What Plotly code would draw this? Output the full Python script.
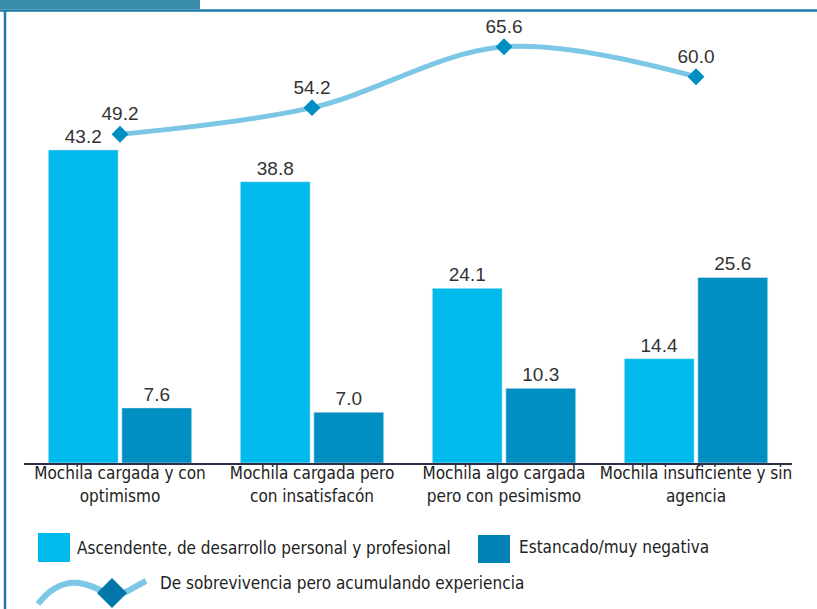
import plotly.graph_objects as go

# ---- data ----
categories = ["Mochila cargada y con<br>optimismo",
              "Mochila cargada pero<br>con insatisfacón",
              "Mochila algo cargada<br>pero con pesimismo",
              "Mochila insuficiente y sin<br>agencia"]
ascendente = [43.2, 38.8, 24.1, 14.4]
estancado = [7.6, 7.0, 10.3, 25.6]
sobrevivencia = [49.2, 54.2, 65.6, 60.0]

series_names = ["Ascendente, de desarrollo personal y profesional",
                "Estancado/muy negativa",
                "De sobrevivencia pero acumulando experiencia"]

# ---- style ----
W, H = 817, 609
PX0, PX1, PY0, PY1 = 24, 792, 10, 463   # plot area in pixels (left, right, top, bottom)
C_LIGHT = "#00BAEC"
C_DARK = "#008FC0"
C_LINE = "#7CC6E6"
C_MARK = "#008FC2"
C_FRAME = "#1B7BA6"
TXT = "#333333"
LBL_FONT = "DejaVu Sans Condensed"
NUM_FONT = "Liberation Sans"


def px(x):
    return (x - PX0) / (PX1 - PX0)


def py(y):
    return (PY1 - y) / (PY1 - PY0)


fig = go.Figure()
fig.add_trace(go.Bar(x=categories, y=ascendente, name=series_names[0],
                     marker_color=C_LIGHT, text=[f"{v:.1f}" for v in ascendente],
                     textposition="outside", cliponaxis=False,
                     textfont=dict(family=NUM_FONT, size=19, color=TXT)))
fig.add_trace(go.Bar(x=categories, y=estancado, name=series_names[1],
                     marker_color=C_DARK, text=[f"{v:.1f}" for v in estancado],
                     textposition="outside", cliponaxis=False,
                     textfont=dict(family=NUM_FONT, size=19, color=TXT)))
fig.add_trace(go.Scatter(x=categories, y=sobrevivencia, name=series_names[2],
                         yaxis="y2", mode="lines+markers+text",
                         line=dict(color=C_LINE, width=5, shape="spline", smoothing=1.0),
                         marker=dict(symbol="diamond", size=13, color=C_MARK),
                         text=[f"{v:.1f}" for v in sobrevivencia],
                         textposition="top center", cliponaxis=False,
                         textfont=dict(family=NUM_FONT, size=19, color=TXT)))

shapes = [
    # title box and frame
    dict(type="rect", xref="paper", yref="paper", x0=px(0), x1=px(200), y0=py(9), y1=py(-2),
         fillcolor="#3A8CAB", line_width=0, layer="above"),
    dict(type="line", xref="paper", yref="paper", x0=px(0), x1=px(817), y0=py(10.5), y1=py(10.5),
         line=dict(color=C_FRAME, width=2.5)),
    dict(type="line", xref="paper", yref="paper", x0=px(5), x1=px(5), y0=py(10), y1=py(612),
         line=dict(color=C_FRAME, width=2.5)),
    # legend swatches
    dict(type="rect", xref="paper", yref="paper", x0=px(38), x1=px(70), y0=py(562), y1=py(533),
         fillcolor=C_LIGHT, line_width=0),
    dict(type="rect", xref="paper", yref="paper", x0=px(478), x1=px(510), y0=py(563), y1=py(535),
         fillcolor="#0082B6", line_width=0),
]

wave = [(38, 604), (52, 586), (68, 580), (84, 584), (100, 592), (112, 594), (128, 590), (146, 581)]
path = "M{},{} C{},{} {},{} {},{} S{},{} {},{} S{},{} {},{}".format(
    px(wave[0][0]), py(wave[0][1]),
    px(wave[1][0]), py(wave[1][1]), px(wave[2][0]), py(wave[2][1]), px(wave[3][0]), py(wave[3][1]),
    px(wave[4][0]), py(wave[4][1]), px(wave[5][0]), py(wave[5][1]),
    px(wave[6][0]), py(wave[6][1]), px(wave[7][0]), py(wave[7][1]))
shapes.append(dict(type="path", xref="paper", yref="paper", path=path,
                   line=dict(color=C_LINE, width=6)))
dcx, dcy, dr = 112, 593, 15
dpath = "M{},{} L{},{} L{},{} L{},{} Z".format(
    px(dcx - dr), py(dcy), px(dcx), py(dcy - dr), px(dcx + dr), py(dcy), px(dcx), py(dcy + dr))
shapes.append(dict(type="path", xref="paper", yref="paper", path=dpath,
                   fillcolor="#0077A8", line_width=0))

annotations = [
    dict(text=series_names[0], x=px(75), y=py(548), xref="paper", yref="paper",
         xanchor="left", yanchor="middle", showarrow=False,
         font=dict(family=LBL_FONT, size=17, color="#222222")),
    dict(text=series_names[1], x=px(517), y=py(547), xref="paper", yref="paper",
         xanchor="left", yanchor="middle", showarrow=False,
         font=dict(family=LBL_FONT, size=17, color="#222222")),
    dict(text=series_names[2], x=px(158), y=py(583), xref="paper", yref="paper",
         xanchor="left", yanchor="middle", showarrow=False,
         font=dict(family=LBL_FONT, size=17, color="#222222")),
]

fig.update_layout(
    width=W, height=H,
    margin=dict(l=PX0, r=W - PX1, t=PY0, b=H - PY1),
    paper_bgcolor="white", plot_bgcolor="white",
    barmode="group", bargap=0.234, bargroupgap=0.05,
    showlegend=False,
    xaxis=dict(showline=True, linecolor="#2A2F45", linewidth=2, ticks="",
               showgrid=False, zeroline=False, ticklabelstandoff=-6, fixedrange=True,
               tickfont=dict(family=LBL_FONT, size=17, color="#222222")),
    yaxis=dict(visible=False, range=[0, 62.5], fixedrange=True),
    yaxis2=dict(visible=False, range=[-12.4, 72.5], overlaying="y", fixedrange=True),
    shapes=shapes, annotations=annotations,
    hovermode=False,
)

fig.write_html("out.html", config={"displayModeBar": False},
               post_script="document.body.style.margin='0px';")
